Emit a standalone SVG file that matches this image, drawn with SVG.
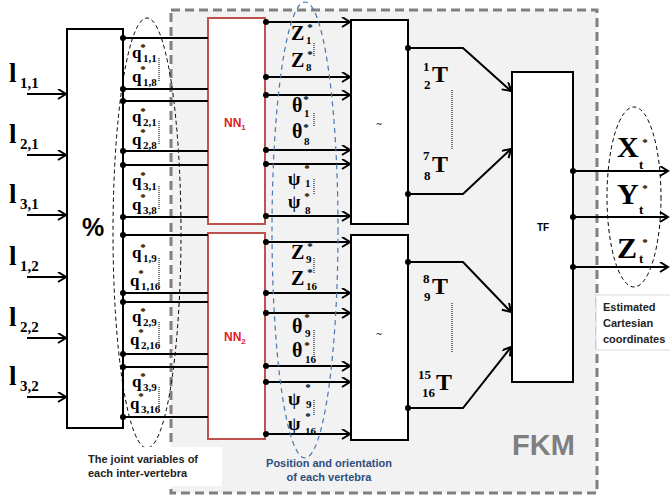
<svg xmlns="http://www.w3.org/2000/svg" width="670" height="499" viewBox="0 0 670 499">
<defs>
<marker id="arr" markerUnits="userSpaceOnUse" markerWidth="12" markerHeight="12" refX="9" refY="5" orient="auto">
<path d="M1,0 L9,5 L1,10" fill="none" stroke="#000" stroke-width="2"/>
</marker>
<style>
.box{fill:#fff;stroke:#000;stroke-width:2}
.nn{fill:#fff;stroke:#c0504d;stroke-width:2}
.ln{stroke:#000;stroke-width:2;fill:none}
.ar{stroke:#000;stroke-width:2;fill:none;marker-end:url(#arr)}
.dot{fill:#000}
.dotl{stroke:#333;stroke-width:1.3;stroke-dasharray:1 1}
.m{font-family:"Liberation Serif",serif;font-weight:bold;fill:#000}
.q{font-size:17px}
.s{font-size:11px}
.st{font-size:11px;text-anchor:middle}
.g{font-size:20px}
.p{font-size:18px}
.T{font-size:24px}
.ts{font-size:13px}
.big{font-size:30px}
.l{font-size:27px}
.ls{font-size:15px}
.sans{font-family:"Liberation Sans",Arial,sans-serif;font-weight:bold}
.cap{font-family:"Liberation Sans",Arial,sans-serif;font-weight:bold;font-size:11px;fill:#222}
.blue{font-family:"Liberation Sans",Arial,sans-serif;font-weight:bold;font-size:11px;fill:#2f4d7e;text-anchor:middle}
</style>
</defs>

<g id="fkm">
<rect x="171" y="10" width="426" height="483" fill="#f2f2f2" stroke="#808080" stroke-width="3" stroke-dasharray="9 5"/>
<text class="sans" x="512" y="455" font-size="29" fill="#7f7f7f">FKM</text>
</g>

<g id="percent">
<rect class="box" x="67" y="29" width="56" height="399"/>
<text x="82" y="236" font-family="'Liberation Sans',sans-serif" font-weight="bold" font-size="25">%</text>
</g>
<g id="nn1">
<rect class="nn" x="208" y="18" width="57" height="206"/>
<text class="sans" x="224" y="127" font-size="12" fill="#e0201c">NN<tspan font-size="8" dy="3">1</tspan></text>
</g>
<g id="nn2">
<rect class="nn" x="208" y="233" width="57" height="206"/>
<text class="sans" x="224" y="341" font-size="12" fill="#e0201c">NN<tspan font-size="8" dy="3">2</tspan></text>
</g>
<g id="tilde1">
<rect class="box" x="351" y="20" width="57" height="204"/>
<text x="379" y="127" font-family="'DejaVu Sans',sans-serif" font-size="8" text-anchor="middle">~</text>
</g>
<g id="tilde2">
<rect class="box" x="351" y="235" width="57" height="205"/>
<text x="379" y="337" font-family="'DejaVu Sans',sans-serif" font-size="8" text-anchor="middle">~</text>
</g>
<g id="tf">
<rect class="box" x="512" y="72" width="61" height="310"/>
<text class="sans" x="543" y="231" font-size="10" text-anchor="middle">TF</text>
</g>

<g id="connectors">
<line class="ar" x1="27" y1="94" x2="66" y2="94"/>
<line class="ar" x1="27" y1="155" x2="66" y2="155"/>
<line class="ar" x1="27" y1="215" x2="66" y2="215"/>
<line class="ar" x1="27" y1="277" x2="66" y2="277"/>
<line class="ar" x1="27" y1="338" x2="66" y2="338"/>
<line class="ar" x1="27" y1="397" x2="66" y2="397"/>

<path class="ln" d="M123,38H208M123,89H208M123,101H208M123,151H208M123,165H208M123,217H208M123,235H208M123,293H208M123,302H208M123,354H208M123,367H208M123,417H208"/>
<g class="dot">
<circle cx="123" cy="38" r="3"/><circle cx="123" cy="89" r="3"/><circle cx="123" cy="101" r="3"/><circle cx="123" cy="151" r="3"/><circle cx="123" cy="165" r="3"/><circle cx="123" cy="217" r="3"/><circle cx="123" cy="235" r="3"/><circle cx="123" cy="293" r="3"/><circle cx="123" cy="302" r="3"/><circle cx="123" cy="354" r="3"/><circle cx="123" cy="367" r="3"/><circle cx="123" cy="417" r="3"/>
</g>

<line class="ar" x1="266" y1="22" x2="350" y2="22"/>
<line class="ar" x1="266" y1="77" x2="350" y2="77"/>
<line class="ar" x1="266" y1="95" x2="350" y2="95"/>
<line class="ar" x1="266" y1="150" x2="350" y2="150"/>
<line class="ar" x1="266" y1="164" x2="350" y2="164"/>
<line class="ar" x1="266" y1="216" x2="350" y2="216"/>
<line class="ar" x1="266" y1="242" x2="350" y2="242"/>
<line class="ar" x1="266" y1="293" x2="350" y2="293"/>
<line class="ar" x1="266" y1="313" x2="350" y2="313"/>
<line class="ar" x1="266" y1="366" x2="350" y2="366"/>
<line class="ar" x1="266" y1="382" x2="350" y2="382"/>
<line class="ar" x1="266" y1="434" x2="350" y2="434"/>
<g class="dot">
<circle cx="266" cy="22" r="3"/><circle cx="266" cy="77" r="3"/><circle cx="266" cy="95" r="3"/><circle cx="266" cy="150" r="3"/><circle cx="266" cy="164" r="3"/><circle cx="266" cy="216" r="3"/>
<circle cx="266" cy="242" r="3"/><circle cx="266" cy="293" r="3"/><circle cx="266" cy="313" r="3"/><circle cx="266" cy="366" r="3"/><circle cx="266" cy="382" r="3"/><circle cx="266" cy="434" r="3"/>
</g>

<polyline class="ar" points="408,48 463,48 511,91"/>
<polyline class="ar" points="408,194 463,194 511,149"/>
<polyline class="ar" points="408,262 463,262 511,312"/>
<polyline class="ar" points="408,408 463,408 511,347"/>
<g class="dot">
<circle cx="408" cy="48" r="3"/><circle cx="408" cy="194" r="3"/><circle cx="408" cy="262" r="3"/><circle cx="408" cy="408" r="3"/>
</g>

<line class="ar" x1="573" y1="171" x2="668" y2="171"/>
<line class="ar" x1="573" y1="217" x2="668" y2="217"/>
<line class="ar" x1="573" y1="267" x2="668" y2="267"/>
<g class="dot">
<circle cx="573" cy="171" r="3"/><circle cx="573" cy="217" r="3"/><circle cx="573" cy="267" r="3"/>
</g>
</g>

<g id="input-labels" class="m">
<text class="l" x="9" y="82">l</text><text class="ls" x="20" y="88">1,1</text>
<text class="l" x="9" y="143">l</text><text class="ls" x="20" y="149">2,1</text>
<text class="l" x="9" y="203">l</text><text class="ls" x="20" y="209">3,1</text>
<text class="l" x="9" y="265">l</text><text class="ls" x="20" y="271">1,2</text>
<text class="l" x="9" y="326">l</text><text class="ls" x="20" y="332">2,2</text>
<text class="l" x="9" y="385">l</text><text class="ls" x="20" y="391">3,2</text>
</g>

<g id="q-labels" class="m">
<text class="q" x="132" y="58">q</text><text class="st" x="143" y="51">*</text><text class="s" x="143" y="62">1,1</text>
<text class="q" x="132" y="82">q</text><text class="st" x="143" y="73">*</text><text class="s" x="143" y="86">1,8</text>
<text class="q" x="132" y="122">q</text><text class="st" x="143" y="115">*</text><text class="s" x="143" y="126">2,1</text>
<text class="q" x="132" y="145">q</text><text class="st" x="143" y="136">*</text><text class="s" x="143" y="149">2,8</text>
<text class="q" x="132" y="186">q</text><text class="st" x="143" y="179">*</text><text class="s" x="143" y="190">3,1</text>
<text class="q" x="132" y="210">q</text><text class="st" x="143" y="201">*</text><text class="s" x="143" y="214">3,8</text>
<text class="q" x="132" y="258">q</text><text class="st" x="143" y="251">*</text><text class="s" x="143" y="262">1,9</text>
<text class="q" x="130" y="286">q</text><text class="st" x="141" y="277">*</text><text class="s" x="141" y="290">1,16</text>
<text class="q" x="132" y="322">q</text><text class="st" x="143" y="315">*</text><text class="s" x="143" y="326">2,9</text>
<text class="q" x="130" y="345">q</text><text class="st" x="141" y="336">*</text><text class="s" x="141" y="349">2,16</text>
<text class="q" x="132" y="387">q</text><text class="st" x="143" y="380">*</text><text class="s" x="143" y="391">3,9</text>
<text class="q" x="130" y="409">q</text><text class="st" x="141" y="400">*</text><text class="s" x="141" y="413">3,16</text>
</g>
<g id="q-dots">
<line class="dotl" x1="159" y1="58" x2="159" y2="82"/>
<line class="dotl" x1="159" y1="121" x2="159" y2="145"/>
<line class="dotl" x1="159" y1="186" x2="159" y2="210"/>
<line class="dotl" x1="159" y1="258" x2="159" y2="286"/>
<line class="dotl" x1="159" y1="322" x2="159" y2="345"/>
<line class="dotl" x1="159" y1="387" x2="159" y2="409"/>
</g>

<g id="pose-labels" class="m">
<text class="g" x="291" y="40">Z</text><text class="st" x="310" y="31">*</text><text class="s" x="306" y="44">1</text>
<text class="g" x="291" y="67">Z</text><text class="st" x="310" y="58">*</text><text class="s" x="306" y="71">8</text>
<text class="g" x="292" y="112">θ</text><text class="st" x="306" y="103">*</text><text class="s" x="304" y="117">1</text>
<text class="g" x="292" y="138">θ</text><text class="st" x="306" y="131" font-size="10">*</text><text class="s" x="304" y="145">8</text>
<text class="p" x="288" y="185">ψ</text><text class="st" x="307" y="172">*</text><text class="s" x="305" y="187">1</text>
<text class="p" x="288" y="208">ψ</text><text class="st" x="307" y="200" font-size="10">*</text><text class="s" x="305" y="214">8</text>

<text class="g" x="291" y="259">Z</text><text class="st" x="310" y="250">*</text><text class="s" x="306" y="263">9</text>
<text class="g" x="291" y="285">Z</text><text class="st" x="310" y="276">*</text><text class="s" x="306" y="290">16</text>
<text class="g" x="292" y="333">θ</text><text class="st" x="307" y="321">*</text><text class="s" x="305" y="337">9</text>
<text class="g" x="292" y="357">θ</text><text class="st" x="307" y="349" font-size="10">*</text><text class="s" x="305" y="363">16</text>
<text class="p" x="288" y="405">ψ</text><text class="st" x="308" y="391">*</text><text class="s" x="306" y="408">9</text>
<text class="p" x="288" y="430">ψ</text><text class="st" x="308" y="420" font-size="10">*</text><text class="s" x="305" y="435">16</text>
</g>
<g id="pose-dots">
<line class="dotl" x1="314" y1="43" x2="314" y2="57"/>
<line class="dotl" x1="314" y1="113" x2="314" y2="126"/>
<line class="dotl" x1="314" y1="179" x2="314" y2="194"/>
<line class="dotl" x1="314" y1="258" x2="314" y2="273"/>
<line class="dotl" x1="314" y1="330" x2="314" y2="357"/>
<line class="dotl" x1="314" y1="400" x2="314" y2="416"/>
</g>

<g id="t-labels" class="m">
<text class="ts" x="423" y="71">1</text><text class="T" x="432" y="82">T</text><text class="ts" x="424" y="89">2</text>
<text class="ts" x="423" y="160">7</text><text class="T" x="432" y="172">T</text><text class="ts" x="424" y="180">8</text>
<text class="ts" x="423" y="283">8</text><text class="T" x="432" y="294">T</text><text class="ts" x="424" y="301">9</text>
<text class="ts" x="418" y="379">15</text><text class="T" x="436" y="390">T</text><text class="ts" x="422" y="397">16</text>
<line class="dotl" x1="452" y1="90" x2="452" y2="150"/>
<line class="dotl" x1="452" y1="303" x2="452" y2="353"/>
</g>

<g id="xyz-labels" class="m">
<text class="big" x="617" y="157">X</text><text class="st" x="645" y="146" font-size="13">*</text><text class="ts" x="639" y="169">t</text>
<text class="big" x="617" y="204">Y</text><text class="st" x="645" y="192" font-size="13">*</text><text class="ts" x="639" y="214">t</text>
<text class="big" x="617" y="258">Z</text><text class="st" x="645" y="246" font-size="13">*</text><text class="ts" x="639" y="263">t</text>
</g>

<g id="groupings">
<ellipse cx="147" cy="233" rx="34" ry="215" fill="none" stroke="#000" stroke-width="1" stroke-dasharray="4 3"/>
<ellipse cx="305" cy="230" rx="33" ry="228" fill="none" stroke="#4a76b0" stroke-width="1.2" stroke-dasharray="5 4"/>
<ellipse cx="634" cy="197" rx="27" ry="90" fill="none" stroke="#000" stroke-width="1" stroke-dasharray="4 3"/>
</g>

<g id="joint-note">
<rect x="78" y="447" width="144" height="39" fill="#fff"/>
<text class="cap" x="88" y="463">The joint variables of</text>
<text class="cap" x="88" y="477">each inter-vertebra</text>
</g>
<g id="pose-note">
<text class="blue" x="329" y="467">Position and orientation</text>
<text class="blue" x="329" y="481">of each vertebra</text>
</g>
<g id="output-note">
<rect x="596" y="295" width="76" height="55" fill="#fff" stroke="#d9d9d9" stroke-width="1"/>
<text class="cap" x="603" y="311" font-size="10.5">Estimated</text>
<text class="cap" x="603" y="327" font-size="10.5">Cartesian</text>
<text class="cap" x="603" y="343" font-size="10.5">coordinates</text>
</g>
</svg>
